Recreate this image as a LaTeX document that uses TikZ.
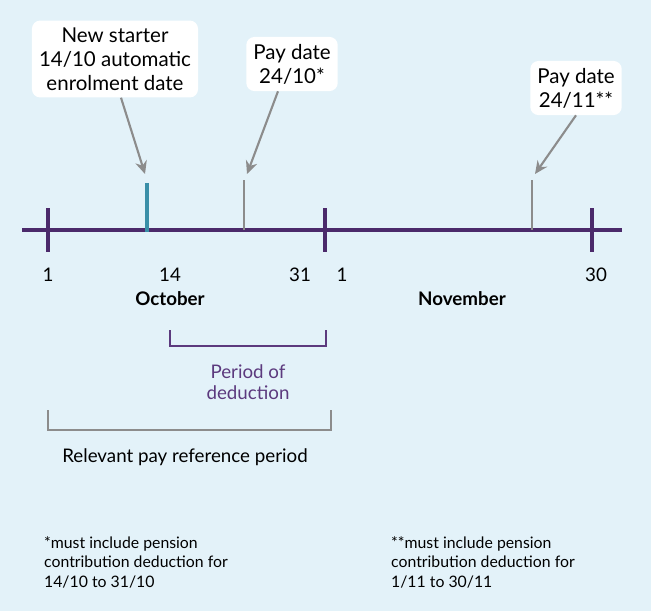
\documentclass[tikz,border=0pt]{standalone}
\usepackage{fontspec}
\setmainfont{Lato}
\usetikzlibrary{arrows.meta}
\definecolor{bgblue}{HTML}{E3F2F9}
\definecolor{linepurple}{HTML}{4B2A6B}
\definecolor{txtpurple}{HTML}{5C3A7E}
\definecolor{teal}{HTML}{3A8FA8}
\definecolor{pgray}{HTML}{8C8C8C}
\tikzset{
  callout/.style={fill=white, rounded corners=7pt, align=center, font=\fontsize{17.5}{20.5}\selectfont, inner sep=6pt},
  daylabel/.style={font=\fontsize{16}{18.5}\selectfont},
  month/.style={font=\fontsize{16}{18.5}\selectfont\bfseries},
  note/.style={font=\fontsize{13.5}{17}\selectfont, align=left, anchor=north west},
  pointer/.style={draw=pgray, line width=1.8pt, -{Stealth[length=11pt,width=10pt]}},
}
\begin{document}
\begin{tikzpicture}[x=0.03cm, y=-0.03cm]
                \fill[bgblue] (0,0) rectangle (651,611);
                \draw[linepurple, line width=3.2pt] (22,230) -- (622,230);
                \foreach \x in {48,325,592} {
                        \draw[linepurple, line width=3.2pt] (\x,208) -- (\x,252);
                    }
                \draw[teal, line width=3.2pt] (147,183) -- (147,232);
                \draw[pgray, line width=1.8pt] (244,180) -- (244,230);
                \draw[pgray, line width=1.8pt] (532,180) -- (532,230);
                \coordinate (t14) at (145,174);
                \coordinate (t24a) at (247,174);
                \coordinate (t24b) at (535,174);

                % callouts
                \node[callout] (starter) at (115,59) {New starter\\14/10 automatic\\enrolment date};
                \node[callout] (pay1) at (292,64) {Pay date\\24/10*};
                \node[callout] (pay2) at (576,88) {Pay date\\24/11**};
                \draw[pointer] (starter.south) ++(6,0) coordinate (s1) -- (t14);
                \draw[pointer] (pay1.south) ++(-14,0) coordinate (s2) -- (t24a);
                \draw[pointer] (pay2.south) -- (t24b);

                % days and months
                \node[daylabel] (d1) at (48,275) {1};
                \node[daylabel] (d14) at (170,275) {14};
                \node[daylabel] (d31) at (300,275) {31};
                \node[daylabel] (d1b) at (342,275) {1};
                \node[daylabel] (d30) at (596,275) {30};
                \node[month] (oct) at (170,299) {October};
                \node[month] (nov) at (462,299) {November};

                % brackets
                \draw[txtpurple, line width=0.9pt] (170,330) -- (170,346) -- (326,346) -- (326,330);
                \node[daylabel, text=txtpurple, align=center] (deduct) at (248,382) {Period of\\deduction};
                \draw[pgray, line width=0.9pt] (48,410) -- (48,430) -- (331,430) -- (331,410);
                \node[daylabel] (relevant) at (185,457) {Relevant pay reference period};

                % footnotes
                \node[note] (note1) at (40,532) {*must include pension\\contribution deduction for\\14/10 to 31/10};
                \node[note] (note2) at (387,532) {**must include pension\\contribution deduction for\\1/11 to 30/11};
            \end{tikzpicture}
\end{document}
